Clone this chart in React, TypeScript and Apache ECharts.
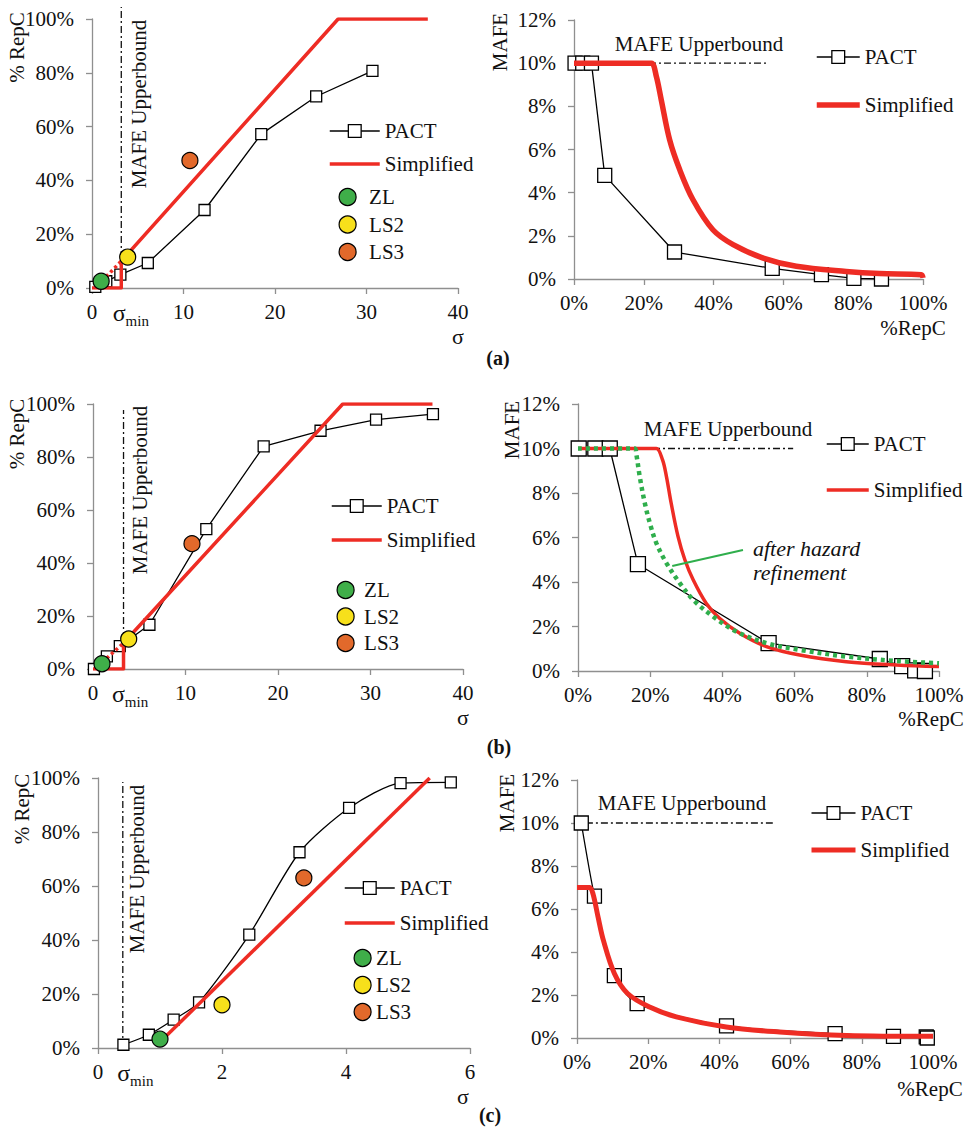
import React, { useEffect, useRef } from "react";
import * as echarts from "echarts";

const FONT = "Liberation Serif";
const RED = "#ee2c24";
const GREEN_DOT = "#2fae4c";
const ZL_COLOR = "#3fae49";
const LS2_COLOR = "#f7e01b";
const LS3_COLOR = "#e2692b";
const AXIS = "#8f8f8f";
const INK = "#111";

// ---------- (a) ----------
const aSigmaTicks = [0, 10, 20, 30, 40];
const aPactSigma = [0.36, 1.56, 3.1, 6.1, 12.3, 18.5, 24.5, 30.65];
const aPactRepC = [0.4, 2.5, 5.0, 9.3, 29.0, 57.2, 71.2, 80.7];
const aSimpSigma = [0, 3.2, 3.2, 26.9, 36.7];
const aSimpRepC = [0, 0, 10, 100, 100];
const aExtSigma = [1.1, 3.2];
const aExtRepC = [2.6, 10];
const aPtSigma = [1.0, 3.9, 10.7];
const aPtRepC = [2.5, 11.5, 47.4];
const aSigmaMin = 3.2;
const aBoundTop = 104.5;

const aPactX = [0.3, 2.5, 5.0, 8.8, 28.8, 56.8, 70.9, 80.2, 88.1];
const aPactMafe = [10, 10, 10, 4.8, 1.25, 0.49, 0.2, 0.03, 0.0];
const aSimpX = [0, 20, 22.2, 23.6, 25.0, 27.4, 30.3, 34.1, 39.8, 45.6, 54.2, 63.7, 78.0, 87.6, 99.5, 100];
const aSimpMafe = [10, 10, 10, 9.38, 8.3, 6.45, 5.06, 3.67, 2.28, 1.59, 0.97, 0.59, 0.35, 0.25, 0.2, 0.05];
const aBoundX = [0, 55.3];

// ---------- (b) ----------
const bSigmaTicks = [0, 10, 20, 30, 40];
const bPactSigma = [0.1, 1.5, 2.9, 6.1, 12.25, 18.45, 24.6, 30.6, 36.75];
const bPactRepC = [0, 4.8, 8.6, 16.7, 52.8, 84.0, 89.9, 94.1, 96.2];
const bSimpSigma = [0, 3.3, 3.3, 27.0, 36.7];
const bSimpRepC = [0, 0, 9.8, 100, 100];
const bExtSigma = [1.0, 3.3];
const bExtRepC = [2.5, 9.8];
const bPtSigma = [0.97, 3.86, 10.7];
const bPtRepC = [2.0, 11.3, 47.3];
const bSigmaMin = 3.3;
const bBoundTop = 97.7;

const bPactX = [0.2, 4.8, 8.8, 16.6, 52.8, 83.6, 89.8, 93.4, 96.1];
const bPactMafe = [10, 10, 10, 4.8, 1.25, 0.54, 0.22, 0.03, 0.0];
const bSimpX = [0, 19.5, 21.7, 23.4, 24.5, 25.8, 27.7, 29.6, 31.9, 35.5, 39.2, 44.8, 52.2, 61.4, 74.3, 88.2, 100];
const bSimpMafe = [10, 10, 10, 9.5, 8.74, 7.55, 6.05, 5.0, 4.1, 3.05, 2.37, 1.7, 1.1, 0.72, 0.42, 0.27, 0.2];
const bRefX = [0, 13.5, 15.7, 16.2, 17.1, 18.5, 19.9, 21.7, 24.5, 28.2, 31.9, 37.4, 43.9, 52.2, 61.4, 74.3, 88.2, 100];
const bRefMafe = [10, 10, 10, 9.7, 8.74, 7.55, 6.65, 5.75, 4.85, 3.95, 3.2, 2.45, 1.77, 1.25, 0.95, 0.65, 0.45, 0.35];
const bBoundX = [0, 59.6];
const bArrowFrom = [45.7, 5.44];
const bArrowTo = [26.1, 4.72];

// ---------- (c) ----------
const cSigmaTicks = [0, 2, 4, 6];
const cPactSigma = [0.41, 0.82, 1.22, 1.63, 2.44, 3.25, 4.05, 4.88, 5.69];
const cPactRepC = [1.2, 4.9, 10.5, 16.9, 42.0, 72.5, 88.9, 98.1, 98.4];
const cSimpSigma = [1.0, 5.35];
const cSimpRepC = [2.2, 100];
const cPtSigma = [1.0, 2.0, 3.32];
const cPtRepC = [3.3, 16.0, 63.0];
const cSigmaMin = 0.4;
const cBoundTop = 98.5;

const cPactX = [1.2, 4.9, 10.5, 16.9, 42.0, 72.5, 88.9, 98.1, 98.4];
const cPactMafe = [10, 6.6, 2.9, 1.6, 0.56, 0.2, 0.08, 0.05, 0.0];
const cSimpX = [0, 2.6, 3.6, 4.5, 5.9, 7.4, 10.5, 14.2, 20.4, 27.9, 41.9, 56.9, 75.7, 100];
const cSimpMafe = [7.0, 7.0, 7.0, 6.7, 5.64, 4.55, 3.0, 2.07, 1.44, 0.98, 0.51, 0.28, 0.12, 0.08];
const cBoundX = [2.5, 55];

const pointNames = ["ZL", "LS2", "LS3"];
const pointColors = [ZL_COLOR, LS2_COLOR, LS3_COLOR];

const zip = (xs: number[], ys: number[]) => xs.map((x, i) => [x, ys[i]]);

const grids = [
  { left: 92, top: 19, width: 366, height: 269 },
  { left: 574, top: 20, width: 349, height: 259 },
  { left: 93, top: 404, width: 370, height: 265 },
  { left: 578, top: 404, width: 361, height: 267 },
  { left: 98, top: 778, width: 372, height: 270 },
  { left: 577, top: 780, width: 356, height: 258 },
];

const axisLineCfg = { show: true, lineStyle: { color: AXIS, width: 1.3 } };
const labelBase = { color: INK, fontFamily: FONT, fontSize: 21 };
const dashDot = { color: INK, width: 1.3, type: [7, 3, 2, 3] as any };

function leftX(gi: number, ticks: number[], smin: number, pad: number) {
  const max = ticks[ticks.length - 1];
  return {
    gridIndex: gi,
    type: "value",
    min: 0,
    max,
    interval: ticks[1] - ticks[0],
    axisLine: axisLineCfg,
    axisTick: { show: true, length: 6, lineStyle: { color: AXIS, width: 1.3 }, customValues: ticks },
    splitLine: { show: false },
    axisLabel: {
      ...labelBase,
      margin: 13,
      customValues: [0, smin, ...ticks.slice(1)],
      formatter: (v: number) => (Math.abs(v - smin) < 1e-9 ? "{s|σ}{m|min}" : String(v)),
      rich: {
        s: { fontFamily: FONT, fontSize: 24, color: INK, padding: [0, 0, 3, pad], verticalAlign: "bottom" },
        m: { fontFamily: FONT, fontSize: 15, color: INK, verticalAlign: "bottom" },
      },
    },
  };
}
function leftY(gi: number) {
  return {
    gridIndex: gi,
    type: "value",
    min: 0,
    max: 100,
    interval: 20,
    axisLine: axisLineCfg,
    axisTick: { show: true, length: 6, lineStyle: { color: AXIS, width: 1.3 } },
    splitLine: { show: false },
    axisLabel: { ...labelBase, margin: 18, formatter: "{value}%" },
  };
}
function rightX(gi: number) {
  return {
    gridIndex: gi,
    type: "value",
    min: 0,
    max: 100,
    interval: 20,
    axisLine: axisLineCfg,
    axisTick: { show: true, length: 6, lineStyle: { color: AXIS, width: 1.3 } },
    splitLine: { show: false },
    axisLabel: { ...labelBase, margin: 13, formatter: "{value}%" },
  };
}
function rightY(gi: number) {
  return {
    gridIndex: gi,
    type: "value",
    min: 0,
    max: 12,
    interval: 2,
    axisLine: axisLineCfg,
    axisTick: { show: true, length: 6, lineStyle: { color: AXIS, width: 1.3 } },
    splitLine: { show: false },
    axisLabel: { ...labelBase, margin: 18, formatter: "{value}%" },
  };
}

function pactSeries(gi: number, xs: number[], ys: number[], size: number, smooth: number) {
  return {
    name: "PACT",
    type: "line",
    xAxisIndex: gi,
    yAxisIndex: gi,
    data: zip(xs, ys),
    symbol: "rect",
    symbolSize: size,
    smooth,
    itemStyle: { color: "#fff", borderColor: "#000", borderWidth: 1.3 },
    lineStyle: { color: "#000", width: 1.3 },
    z: 3,
  };
}
function simpSeries(gi: number, xs: number[], ys: number[], width: number, smooth: number) {
  return {
    name: "Simplified",
    type: "line",
    xAxisIndex: gi,
    yAxisIndex: gi,
    data: zip(xs, ys),
    symbol: "none",
    smooth,
    lineStyle: { color: RED, width, cap: "butt", join: "round" },
    z: 4,
  };
}
function plainLine(gi: number, data: number[][], lineStyle: any, z = 2) {
  return {
    type: "line",
    xAxisIndex: gi,
    yAxisIndex: gi,
    data,
    symbol: "none",
    clip: false,
    silent: true,
    lineStyle,
    z,
  };
}
function pointSeries(gi: number, xs: number[], ys: number[]) {
  return pointNames.map((n, i) => ({
    name: n,
    type: "scatter",
    xAxisIndex: gi,
    yAxisIndex: gi,
    data: [[xs[i], ys[i]]],
    symbol: "circle",
    symbolSize: 16,
    itemStyle: { color: pointColors[i], borderColor: "#000", borderWidth: 1.2, opacity: 1 },
    z: 6,
  }));
}

const legendText = { fontFamily: FONT, fontSize: 21, color: INK };

function lineLegend(left: number, top: number, gap: number, itemWidth: number, redWidth: number) {
  return {
    orient: "vertical",
    left,
    top,
    itemGap: gap,
    itemWidth,
    itemHeight: 16,
    selectedMode: false,
    textStyle: legendText,
    data: [
      {
        name: "PACT",
        itemStyle: { color: "#fff", borderColor: "#000", borderWidth: 1.3 },
        lineStyle: { color: "#000", width: 1.3 },
      },
      {
        name: "Simplified",
        itemStyle: { color: "rgba(0,0,0,0)", borderColor: "rgba(0,0,0,0)", borderWidth: 0, opacity: 0 },
        lineStyle: { color: RED, width: redWidth, opacity: 1 },
      },
    ],
  };
}
function dotLegend(left: number, top: number, gap: number, pad: number) {
  return {
    orient: "vertical",
    left,
    top,
    itemGap: gap,
    itemWidth: 17,
    itemHeight: 17,
    icon: "circle",
    selectedMode: false,
    textStyle: { ...legendText, padding: [0, 0, 0, pad] },
    data: pointNames.map((n, i) => ({
      name: n,
      itemStyle: { color: pointColors[i], borderColor: "#000", borderWidth: 1.2 },
    })),
  };
}

function txt(text: string, x: number, y: number, o: any = {}) {
  return {
    type: "text",
    x,
    y,
    rotation: o.rot || 0,
    z: 20,
    silent: true,
    style: {
      text,
      fill: INK,
      fontFamily: FONT,
      fontSize: o.size || 21,
      fontWeight: o.bold ? "bold" : "normal",
      fontStyle: o.italic ? "italic" : "normal",
      align: o.align || "center",
      textAlign: o.align || "center",
      verticalAlign: "middle",
      textVerticalAlign: "middle",
      lineHeight: o.lh,
    },
  };
}

function buildOption() {
  const series: any[] = [
    // (a) left
    plainLine(0, [[aSigmaMin, 0], [aSigmaMin, aBoundTop]], dashDot),
    pactSeries(0, aPactSigma, aPactRepC, 11, 0),
    simpSeries(0, aSimpSigma, aSimpRepC, 3.5, 0),
    plainLine(0, zip(aExtSigma, aExtRepC), { color: RED, width: 3.5, type: [3, 3] }, 4),
    ...pointSeries(0, aPtSigma, aPtRepC),
    // (a) right
    plainLine(1, [[aBoundX[0], 10], [aBoundX[1], 10]], dashDot),
    pactSeries(1, aPactX, aPactMafe, 14, 0),
    simpSeries(1, aSimpX, aSimpMafe, 5.5, 0.35),
    // (b) left
    plainLine(2, [[bSigmaMin, 0], [bSigmaMin, bBoundTop]], dashDot),
    pactSeries(2, bPactSigma, bPactRepC, 11, 0),
    simpSeries(2, bSimpSigma, bSimpRepC, 3.5, 0),
    plainLine(2, zip(bExtSigma, bExtRepC), { color: RED, width: 3.5, type: [3, 3] }, 4),
    ...pointSeries(2, bPtSigma, bPtRepC),
    // (b) right
    plainLine(3, [[bBoundX[0], 10], [bBoundX[1], 10]], dashDot),
    pactSeries(3, bPactX, bPactMafe, 15, 0),
    simpSeries(3, bSimpX, bSimpMafe, 3.5, 0.35),
    {
      type: "line",
      xAxisIndex: 3,
      yAxisIndex: 3,
      data: zip(bRefX, bRefMafe),
      symbol: "none",
      smooth: 0.35,
      lineStyle: { color: GREEN_DOT, width: 4.5, type: [4, 4] },
      z: 5,
      markLine: {
        silent: true,
        symbol: ["none", "arrow"],
        symbolSize: [0, 12],
        label: { show: false },
        lineStyle: { color: GREEN_DOT, width: 2, type: "solid" },
        data: [[{ coord: bArrowFrom }, { coord: bArrowTo }]],
      },
    },
    // (c) left
    plainLine(4, [[cSigmaMin, 0], [cSigmaMin, cBoundTop]], dashDot),
    pactSeries(4, cPactSigma, cPactRepC, 11, 0.25),
    simpSeries(4, cSimpSigma, cSimpRepC, 3.5, 0),
    ...pointSeries(4, cPtSigma, cPtRepC),
    // (c) right
    plainLine(5, [[cBoundX[0], 10], [cBoundX[1], 10]], dashDot),
    pactSeries(5, cPactX, cPactMafe, 14, 0.25),
    simpSeries(5, cSimpX, cSimpMafe, 5, 0.35),
  ];

  const graphic = [
    txt("% RepC", 16.5, 47.5, { rot: Math.PI / 2 }),
    txt("% RepC", 17, 434, { rot: Math.PI / 2 }),
    txt("% RepC", 22, 809, { rot: Math.PI / 2 }),
    txt("MAFE", 500, 42, { rot: Math.PI / 2 }),
    txt("MAFE", 512, 430, { rot: Math.PI / 2 }),
    txt("MAFE", 507, 803, { rot: Math.PI / 2 }),
    txt("σ", 458, 336, { size: 22 }),
    txt("σ", 463, 717, { size: 22 }),
    txt("σ", 463, 1096, { size: 22 }),
    txt("%RepC", 913, 328),
    txt("%RepC", 931, 719),
    txt("%RepC", 930, 1089),
    txt("MAFE Upperbound", 139, 104, { rot: Math.PI / 2 }),
    txt("MAFE Upperbound", 140, 490, { rot: Math.PI / 2 }),
    txt("MAFE Upperbound", 137, 869, { rot: Math.PI / 2 }),
    txt("MAFE Upperbound", 699, 44),
    txt("MAFE Upperbound", 728, 429),
    txt("MAFE Upperbound", 682, 803),
    txt("(a)", 498, 358, { bold: true, size: 20 }),
    txt("(b)", 499, 747, { bold: true, size: 20 }),
    txt("(c)", 490, 1115, { bold: true, size: 20 }),
    txt("after hazard\nrefinement", 753, 560, { italic: true, align: "left", lh: 24, size: 22 }),
  ];

  return {
    animation: false,
    backgroundColor: "#fff",
    textStyle: { fontFamily: FONT, fontSize: 21, color: INK },
    grid: grids,
    xAxis: [
      leftX(0, aSigmaTicks, aSigmaMin, 19),
      rightX(1),
      leftX(2, bSigmaTicks, bSigmaMin, 13),
      rightX(3),
      leftX(4, cSigmaTicks, cSigmaMin, 25),
      rightX(5),
    ],
    yAxis: [leftY(0), rightY(1), leftY(2), rightY(3), leftY(4), rightY(5)],
    legend: [
      lineLegend(323, 115.5, 12, 50, 3.5),
      dotLegend(333.5, 181.5, 6.5, 8),
      lineLegend(809, 41.5, 27, 43, 5.5),
      lineLegend(325, 490.5, 13, 50, 3.5),
      dotLegend(331.5, 574.5, 5.5, 5),
      lineLegend(820, 428.5, 25, 42, 3.5),
      lineLegend(338, 872.5, 14, 50, 3.5),
      dotLegend(348.5, 942.5, 6, 0),
      lineLegend(804, 797.5, 16, 44, 5),
    ],
    series,
    graphic,
  };
}

const CSS = `#resketch-chart svg text, #resketch-chart svg tspan { font-family: "Liberation Serif", "Times New Roman", serif !important; }`;

export default function App() {
  const ref = useRef<HTMLDivElement>(null);
  useEffect(() => {
    const chart = echarts.init(ref.current!, null, { renderer: "svg" });
    chart.setOption(buildOption() as any);
    return () => chart.dispose();
  }, []);
  return (
    <>
      <style>{CSS}</style>
      <div
        id="resketch-chart"
        ref={ref}
        style={{ position: "absolute", left: 0, top: 0, width: 968, height: 1130, background: "#fff" }}
      />
    </>
  );
}
